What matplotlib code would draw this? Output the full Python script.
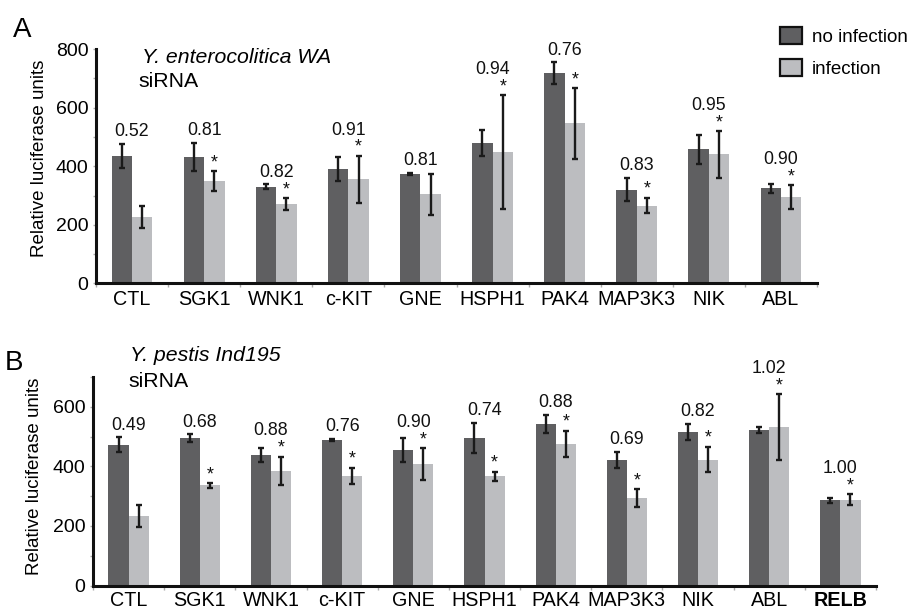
import matplotlib
matplotlib.use("Agg")
import matplotlib.pyplot as plt
from matplotlib.patches import Patch
import numpy as np

plt.rcParams['font.family'] = ['Liberation Sans', 'DejaVu Sans']

# ---------------- data ----------------
cats_a = ['CTL', 'SGK1', 'WNK1', 'c-KIT', 'GNE', 'HSPH1', 'PAK4', 'MAP3K3', 'NIK', 'ABL']
noinf_a = [435, 432, 330, 390, 374, 479, 718, 320, 458, 325]
noinf_a_err = [41, 47, 8, 42, 3, 44, 37, 40, 49, 15]
inf_a = [227, 350, 271, 356, 304, 448, 546, 266, 441, 295]
inf_a_err = [37, 33, 21, 80, 70, 195, 120, 27, 80, 40]
ratio_a = ['0.52', '0.81', '0.82', '0.91', '0.81', '0.94', '0.76', '0.83', '0.95', '0.90']
star_a = [False, True, True, True, False, True, True, True, True, True]

cats_b = ['CTL', 'SGK1', 'WNK1', 'c-KIT', 'GNE', 'HSPH1', 'PAK4', 'MAP3K3', 'NIK', 'ABL', 'RELB']
noinf_b = [473, 494, 438, 488, 455, 495, 542, 422, 515, 523, 286]
noinf_b_err = [24, 13, 22, 4, 41, 50, 30, 27, 27, 10, 9]
inf_b = [232, 336, 385, 369, 408, 367, 476, 293, 423, 532, 288]
inf_b_err = [37, 8, 48, 27, 53, 15, 44, 30, 43, 110, 18]
ratio_b = ['0.49', '0.68', '0.88', '0.76', '0.90', '0.74', '0.88', '0.69', '0.82', '1.02', '1.00']
star_b = [False, True, True, True, True, True, True, True, True, True, True]

DARK = '#5f5f61'
LIGHT = '#bcbdc0'
ERR = '#1a1a1a'
W, H = 914, 613

fig = plt.figure(figsize=(W / 100, H / 100), dpi=100)


def px_axes(l, r, t, b):
    return fig.add_axes([l / W, 1 - b / H, (r - l) / W, (b - t) / H])


def panel(ax, cats, noinf, noinf_err, inf, inf_err, ratios, stars, ymax, xpad, bold_last=False):
    n = len(cats)
    x = np.arange(n)
    w = 0.283
    ekw = dict(elinewidth=1.7, capthick=1.7, capsize=2.4, ecolor=ERR)
    ax.bar(x - w / 2, noinf, w, color=DARK, yerr=noinf_err, error_kw=ekw, zorder=2)
    ax.bar(x + w / 2, inf, w, color=LIGHT, yerr=inf_err, error_kw=ekw, zorder=2)
    dtop = np.array(noinf) + np.array(noinf_err)
    ltop = np.array(inf) + np.array(inf_err)
    for i in range(n):
        ref = dtop[i]
        if stars[i]:
            star_c = ltop[i] + 46
            ax.annotate('*', xy=(x[i] + w / 2, star_c), xytext=(0, -7),
                        textcoords='offset points', ha='center', va='baseline',
                        fontsize=12.8, color='#111111', annotation_clip=False)
            ref = max(ref, star_c)
        else:
            ref = max(ref, ltop[i])
        ax.annotate(ratios[i], xy=(x[i], ref + 48), xytext=(0, -4.6),
                    textcoords='offset points', ha='center', va='baseline',
                    fontsize=12.8, color='#111111', annotation_clip=False)
    ax.set_xlim(-0.5, n - 0.5)
    ax.set_ylim(0, ymax)
    for s in ['top', 'right']:
        ax.spines[s].set_visible(False)
    for s in ['left', 'bottom']:
        ax.spines[s].set_linewidth(2.2)
        ax.spines[s].set_color('#111111')
    ax.set_xticks(x)
    ax.set_xticklabels(cats, fontsize=14.2)
    if bold_last:
        ax.get_xticklabels()[-1].set_fontweight('bold')
    ax.set_xticks(np.arange(-0.5, n, 1), minor=True)
    ax.tick_params(axis='x', which='major', length=0, pad=xpad)
    ax.tick_params(axis='x', which='minor', length=3, width=1, color='#aaaaaa')
    ax.set_yticks(np.arange(0, ymax + 1, 200))
    ax.set_yticks(np.arange(100, ymax + 1, 200), minor=True)
    ax.tick_params(axis='y', which='both', length=2.5, width=1, color='#aaaaaa',
                   labelsize=14, pad=3)


# Panel A
axA = px_axes(96, 817, 49, 283.5)
panel(axA, cats_a, noinf_a, noinf_a_err, inf_a, inf_a_err, ratio_a, star_a, 800, xpad=5)

# Panel B
axB = px_axes(93, 876, 377, 585.5)
panel(axB, cats_b, noinf_b, noinf_b_err, inf_b, inf_b_err, ratio_b, star_b, 700, xpad=3.8,
      bold_last=True)


def ftext(xp, yp, s, **kw):
    fig.text(xp / W, 1 - yp / H, s, **kw)


ftext(13, 36.7, 'A', fontsize=20, va='baseline', ha='left')
ftext(5, 370, 'B', fontsize=20, va='baseline', ha='left')
ftext(141.5, 62.7, 'Y. enterocolitica WA', fontsize=15.3, style='italic', va='baseline', ha='left')
ftext(138, 87.3, 'siRNA', fontsize=15.3, va='baseline', ha='left')
ftext(130, 360.7, 'Y. pestis Ind195', fontsize=15.3, style='italic', va='baseline', ha='left')
ftext(128, 386.7, 'siRNA', fontsize=15.3, va='baseline', ha='left')
ftext(40, 158, 'Relative luciferase units', fontsize=13.5, rotation=90, ha='center', va='center')
ftext(35, 476, 'Relative luciferase units', fontsize=13.5, rotation=90, ha='center', va='center')

handles = [Patch(facecolor=DARK, edgecolor='#111111', linewidth=1.6, label='no infection'),
           Patch(facecolor=LIGHT, edgecolor='#111111', linewidth=1.6, label='infection')]
fig.legend(handles=handles, loc='upper left', bbox_to_anchor=(780 / W, 1 - 27 / H),
           frameon=False, fontsize=13.5, borderpad=0, borderaxespad=0,
           handlelength=1.15, handleheight=1.0, handletextpad=0.55, labelspacing=0.7)

fig.savefig('out.png', dpi=100)
